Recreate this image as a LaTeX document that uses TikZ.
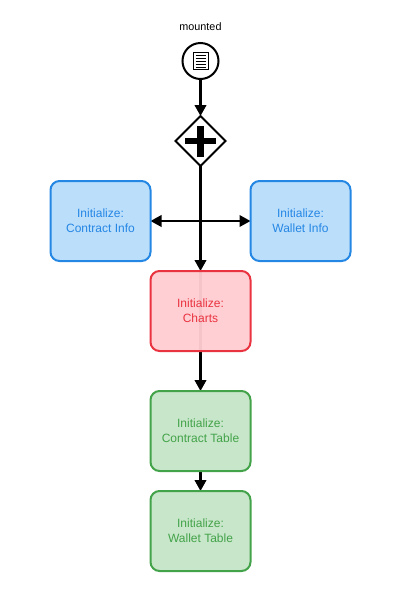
\documentclass[tikz,border=0pt]{standalone}
\usepackage{fontspec}
\setmainfont{Liberation Sans}
\usetikzlibrary{arrows.meta,positioning,shapes.geometric,backgrounds,scopes}
\definecolor{infoline}{HTML}{2587E4}
\definecolor{infofill}{HTML}{BBDEFB}
\definecolor{chartline}{HTML}{E93340}
\definecolor{chartfill}{HTML}{FFCDD2}
\definecolor{tableline}{HTML}{43A34A}
\definecolor{tablefill}{HTML}{C8E6C9}
\tikzset{
  >={Triangle[length=11pt,width=11.5pt]},
  task/.style={rectangle, rounded corners=9pt, draw=#1line, fill=#1fill, text=#1line,
    line width=2pt, minimum width=100pt, minimum height=80pt, outer sep=0pt,
    align=center, font=\fontsize{12}{15}\selectfont},
  start/.style={circle, draw, fill=white, line width=2pt, minimum size=36pt, inner sep=0pt, outer sep=0pt},
  gate/.style={diamond, draw, fill=white, line width=2pt, minimum size=50pt, inner sep=0pt, outer sep=0pt},
  flow/.style={line width=2.4pt, black}
}
\begin{document}
\begin{tikzpicture}[x=1pt, y=-1pt, node distance=10pt]
  \useasboundingbox (0,0) rectangle (402,614);
  \node[start] (mount) at (200.5,61) {};
  \node[font=\fontsize{10.8}{12}\selectfont, above=9pt of mount] (mountlabel) {mounted};
  \node[gate] (gw) at (200.5,141) {};
  \node[task=chart, fill opacity=0.96, text opacity=1] (charts) at (200.5,311) {Initialize:\\Charts};
  \node[task=info, above left=10pt and 0pt of charts.north west, anchor=south east] (cinfo) {Initialize:\\Contract Info};
  \node[task=info, above right=10pt and 0pt of charts.north east, anchor=south west] (winfo) {Initialize:\\Wallet Info};
  \node[task=table, below=40pt of charts] (ctable) {Initialize:\\Contract Table};
  \node[task=table, below=20pt of ctable] (wtable) {Initialize:\\Wallet Table};
  % page icon
  \node[draw, fill=white, line width=1pt, minimum width=15pt, minimum height=17.5pt, inner sep=0pt] (page) at (mount) {};
  \foreach \i in {-6,-3,0,3,6}
    \draw[line width=1pt] ([xshift=-5pt,yshift=\i pt]page.center) -- ([xshift=5pt,yshift=\i pt]page.center);
  % plus sign
  \fill ([xshift=-15.5pt,yshift=-3.3pt]gw.center) rectangle ([xshift=15.5pt,yshift=3.3pt]gw.center);
  \fill ([xshift=-3.3pt,yshift=-15.5pt]gw.center) rectangle ([xshift=3.3pt,yshift=15.5pt]gw.center);
  \begin{scope}[on background layer]
    {[flow, ->]
    \draw (mount) -- (gw);
    \draw (gw) -- (charts);
    \draw (charts.north) -- (ctable);
    \draw (ctable) -- (wtable);
    }
    {[flow, line width=2pt, <->]
    \draw (cinfo.east) -- (winfo.west);
    }
  \end{scope}
\end{tikzpicture}
\end{document}
